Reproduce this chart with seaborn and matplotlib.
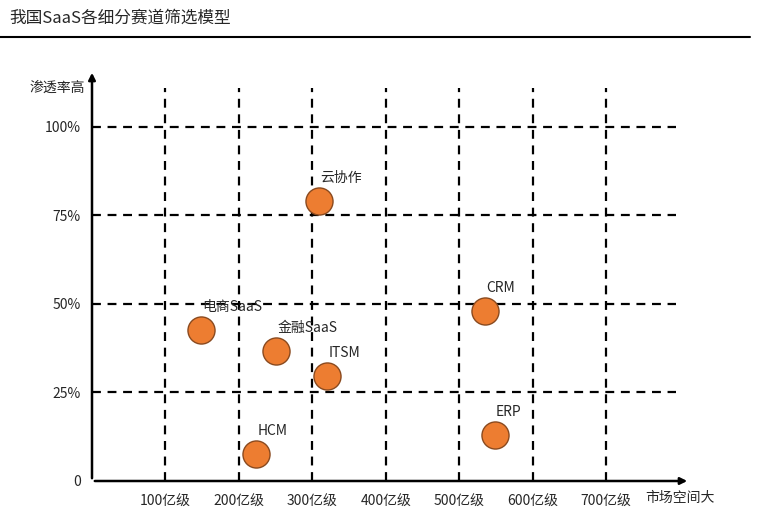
import matplotlib
matplotlib.use("Agg")
import matplotlib.pyplot as plt
import seaborn as sns
import pandas as pd

names = ["电商SaaS", "金融SaaS", "云协作", "ITSM", "HCM", "CRM", "ERP"]
market = [1.48, 2.5, 3.09, 3.2, 2.23, 5.35, 5.48]
penetration = [42.5, 36.6, 79, 29.6, 7.6, 48, 13]
x_labels = ["100亿级", "200亿级", "300亿级", "400亿级", "500亿级", "600亿级", "700亿级"]
y_ticks = [0, 25, 50, 75, 100]
y_labels = ["0", "25%", "50%", "75%", "100%"]

df = pd.DataFrame({"name": names, "market": market, "pen": penetration})

sns.set_style("white")
plt.rcParams["font.family"] = ["Noto Sans CJK SC", "DejaVu Sans"]

fig = plt.figure(figsize=(7.65, 5.25), dpi=100)
fig.text(0.012, 0.965, "我国SaaS各细分赛道筛选模型", fontsize=12, va="center")
fig.add_artist(plt.Line2D([0, 0.98], [0.93, 0.93], color="black", lw=1.5))

ax = fig.add_axes([92 / 765, 44 / 525, 598 / 765, 411 / 525])
ax.set_xlim(0, 8.14)
ax.set_ylim(0, 116)

# dashed grid
for i in range(1, 8):
    ax.plot([i, i], [0, 111], ls=(0, (4, 3)), color="black", lw=1.6, zorder=1)
for v in y_ticks[1:]:
    ax.plot([0, 7.95], [v, v], ls=(0, (4, 3)), color="black", lw=1.6, zorder=1)

sns.scatterplot(data=df, x="market", y="pen", ax=ax, s=380, color="#ED7D31",
                edgecolor="#8a4a1f", linewidth=1, zorder=3, legend=False)
for n, xv, yv in zip(names, market, penetration):
    ax.text(xv + 0.02, yv + 4.5, n, fontsize=10, ha="left", va="bottom", zorder=4)

for s in ax.spines.values():
    s.set_visible(False)
ax.annotate("", xy=(0, 116), xytext=(0, 0),
            arrowprops=dict(arrowstyle="-|>", color="black", lw=1.8, mutation_scale=10), annotation_clip=False)
ax.annotate("", xy=(8.14, 0), xytext=(0, 0),
            arrowprops=dict(arrowstyle="-|>", color="black", lw=1.8, mutation_scale=10), annotation_clip=False)

ax.set_xticks(range(1, 8))
ax.set_xticklabels(x_labels, fontsize=10)
ax.set_yticks(y_ticks)
ax.set_yticklabels(y_labels, fontsize=10)
ax.tick_params(length=0, pad=8)
ax.tick_params(axis="x", pad=10)
ax.set_xlabel("")
ax.set_ylabel("")
ax.text(-0.1, 111, "渗透率高", ha="right", va="center", fontsize=10)
ax.text(8.0, -2.9, "市场空间大", ha="center", va="top", fontsize=10)

fig.savefig("out.png", dpi=100, facecolor="white")
